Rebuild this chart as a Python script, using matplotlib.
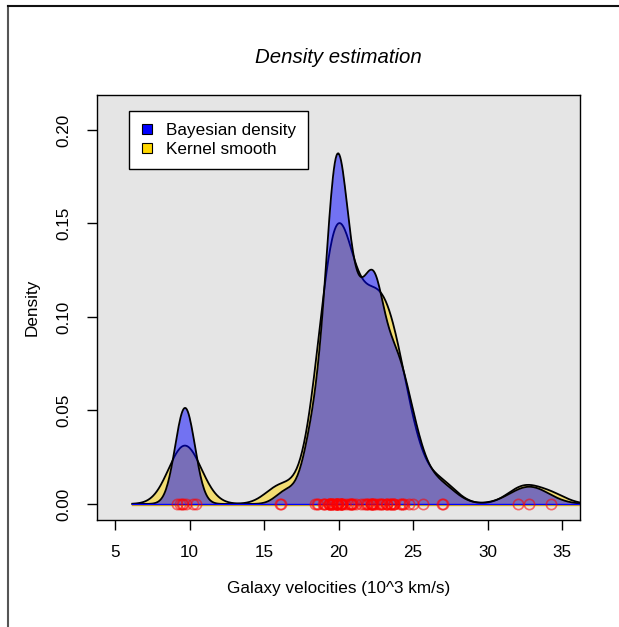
import numpy as np
import matplotlib
matplotlib.use("Agg")
import matplotlib.pyplot as plt
from matplotlib.lines import Line2D

# galaxy velocities (10^3 km/s), 82 galaxies
velocities = [9.172, 9.350, 9.483, 9.558, 9.775, 10.227, 10.406, 16.084, 16.170,
              18.419, 18.552, 18.600, 18.927, 19.052, 19.070, 19.330, 19.343, 19.349,
              19.440, 19.473, 19.529, 19.541, 19.547, 19.663, 19.846, 19.856, 19.863,
              19.914, 19.918, 19.973, 19.989, 20.166, 20.175, 20.179, 20.196, 20.215,
              20.221, 20.415, 20.629, 20.795, 20.821, 20.846, 20.875, 20.986, 21.137,
              21.492, 21.701, 21.814, 21.921, 21.960, 22.185, 22.209, 22.242, 22.249,
              22.314, 22.374, 22.495, 22.746, 22.747, 22.888, 22.914, 23.206, 23.241,
              23.263, 23.484, 23.538, 23.542, 23.666, 23.706, 23.711, 24.129, 24.285,
              24.289, 24.366, 24.717, 24.990, 25.633, 26.960, 26.995, 32.065, 32.789,
              34.279]

# posterior mean mixture (normal components)
mix_means = [9.70, 16.50, 18.30, 19.85, 21.30, 22.40, 23.60, 27.00, 32.80]
mix_sds = [0.66, 0.70, 0.70, 0.75, 0.80, 0.60, 1.38, 1.00, 1.30]
mix_weights = [0.085, 0.012, 0.060, 0.315, 0.140, 0.060, 0.285, 0.020, 0.030]

labels = ["Bayesian density", "Kernel smooth"]

v = np.array(velocities)
n = len(v)

# gaussian kernel smooth, default (nrd0) bandwidth
q75, q25 = np.percentile(v, [75, 25])
bw = 0.9 * min(v.std(ddof=1), (q75 - q25) / 1.34) * n ** -0.2
grid = np.linspace(v.min() - 3 * bw, v.max() + 3 * bw, 512)
kde = np.exp(-0.5 * ((grid[:, None] - v[None, :]) / bw) ** 2).sum(axis=1)
kde = kde / (n * bw * np.sqrt(2 * np.pi))

mu = np.array(mix_means)
sd = np.array(mix_sds)
w = np.array(mix_weights)
bayes = (w / (sd * np.sqrt(2 * np.pi)) *
         np.exp(-0.5 * ((grid[:, None] - mu) / sd) ** 2)).sum(axis=1)

plt.rcParams["font.family"] = ["Liberation Sans", "DejaVu Sans"]

fig = plt.figure(figsize=(6.19, 6.27), dpi=100)
ax = fig.add_axes([0.1562, 0.1707, 0.7808, 0.6778])
ax.set_facecolor("#e5e5e5")

# kernel smooth underneath, bayesian density on top
ax.fill_between(grid, kde, 0, color=(1, 0.843, 0), alpha=0.5, lw=0, zorder=1.0)
ax.plot(grid, kde, color="black", lw=1.3, zorder=1.1)
ax.fill_between(grid, bayes, 0, color=(0, 0, 1), alpha=0.5, lw=0, zorder=1.2)
ax.plot(grid, bayes, color="black", lw=1.3, zorder=1.3)

# baselines
ax.plot(grid, np.zeros_like(grid) - 0.0007, color="#f0c000", lw=1.0, zorder=1.4)
ax.plot(grid, np.zeros_like(grid), color="blue", lw=1.0, zorder=1.5)

# observations
ax.plot(v, np.zeros_like(v), "o", mfc="none", mec=(1, 0, 0, 0.55),
        ms=7.4, mew=1.2, zorder=5)

ax.set_xlim(3.77, 36.2)
ax.set_ylim(-0.00856, 0.2187)
ax.set_xticks([5, 10, 15, 20, 25, 30, 35])
ax.set_yticks([0.0, 0.05, 0.10, 0.15, 0.20])
ax.set_yticklabels(["0.00", "0.05", "0.10", "0.15", "0.20"])
plt.setp(ax.get_yticklabels(), rotation=90, va="center")
ax.tick_params(length=7, width=1, pad=11, labelsize=12.3)
for s in ax.spines.values():
    s.set_color("black")
    s.set_linewidth(1)

ax.set_title("Density estimation", fontsize=14.7, style="italic", pad=23)
ax.set_xlabel("Galaxy velocities (10^3 km/s)", fontsize=12.3, labelpad=15)
ax.set_ylabel("Density", fontsize=12.3, labelpad=12)

handles = [Line2D([], [], ls="none", marker="s", ms=7.2, mfc="blue", mec="black", mew=0.8),
           Line2D([], [], ls="none", marker="s", ms=7.2, mfc="#ffd700", mec="black", mew=0.8)]
leg = ax.legend(handles, labels, loc="upper left", bbox_to_anchor=(0.0668, 0.962),
                borderaxespad=0, fontsize=12.3, fancybox=False, framealpha=1,
                edgecolor="black", borderpad=0.667, handlelength=0.77,
                handletextpad=0.73, labelspacing=0.28)
leg.get_frame().set_linewidth(1)

# outer frame lines
fig.add_artist(Line2D([8 / 619, 8 / 619], [0, 1 - 6 / 627], transform=fig.transFigure,
                      color="#555555", lw=1.5))
fig.add_artist(Line2D([8 / 619, 1], [1 - 6 / 627, 1 - 6 / 627], transform=fig.transFigure,
                      color="#111111", lw=1.5))

fig.savefig("out.png", dpi=100)
